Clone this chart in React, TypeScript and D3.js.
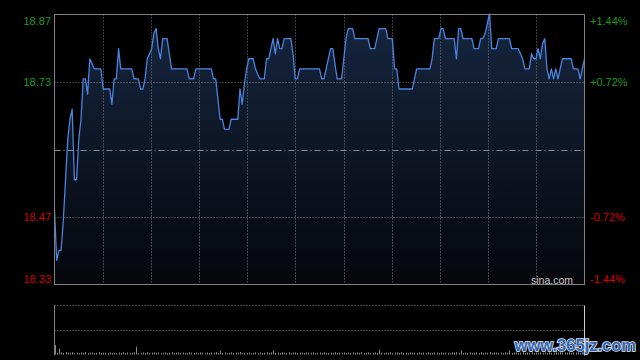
import React from "react";
import * as d3 from "d3";

const prevClose = 18.6;
const pctTicks = [1.44, 0.72, -0.72, -1.44];

const prices = [
  18.48, 18.38, 18.40, 18.40, 18.46, 18.54, 18.62, 18.66, 18.68, 18.54,
  18.54, 18.62, 18.66, 18.74, 18.74, 18.71, 18.78, 18.77, 18.76, 18.76,
  18.76, 18.76, 18.72, 18.72, 18.72, 18.72, 18.69, 18.74, 18.74, 18.80,
  18.76, 18.76, 18.76, 18.76, 18.76, 18.76, 18.74, 18.74, 18.74, 18.72,
  18.72, 18.74, 18.78, 18.79, 18.80, 18.83, 18.84, 18.80, 18.78, 18.82,
  18.82, 18.82, 18.79, 18.76, 18.76, 18.76, 18.76, 18.76, 18.76, 18.76,
  18.76, 18.74, 18.74, 18.74, 18.76, 18.76, 18.76, 18.76, 18.76, 18.76,
  18.76, 18.76, 18.74, 18.74, 18.70, 18.66, 18.66, 18.64, 18.64, 18.64,
  18.66, 18.66, 18.66, 18.66, 18.72, 18.69, 18.73, 18.76, 18.78, 18.78,
  18.78, 18.76, 18.75, 18.74, 18.74, 18.74, 18.78, 18.78, 18.80, 18.82,
  18.79, 18.82, 18.80, 18.80, 18.82, 18.82, 18.82, 18.82, 18.79, 18.74,
  18.74, 18.76, 18.76, 18.76, 18.76, 18.76, 18.76, 18.76, 18.76, 18.76,
  18.76, 18.74, 18.74, 18.76, 18.78, 18.80, 18.80, 18.77, 18.74, 18.74,
  18.74, 18.78, 18.82, 18.84, 18.84, 18.84, 18.82, 18.82, 18.82, 18.82,
  18.82, 18.82, 18.82, 18.80, 18.80, 18.80, 18.82, 18.84, 18.84, 18.84,
  18.84, 18.82, 18.82, 18.82, 18.76, 18.76, 18.72, 18.72, 18.72, 18.72,
  18.72, 18.72, 18.72, 18.74, 18.76, 18.76, 18.76, 18.76, 18.76, 18.76,
  18.76, 18.78, 18.82, 18.82, 18.82, 18.84, 18.84, 18.82, 18.82, 18.82,
  18.82, 18.82, 18.78, 18.84, 18.84, 18.82, 18.82, 18.82, 18.82, 18.82,
  18.80, 18.80, 18.80, 18.82, 18.82, 18.83, 18.85, 18.87, 18.80, 18.80,
  18.80, 18.82, 18.82, 18.82, 18.82, 18.82, 18.82, 18.80, 18.80, 18.80,
  18.80, 18.79, 18.78, 18.76, 18.76, 18.76, 18.79, 18.78, 18.78, 18.80,
  18.78, 18.81, 18.82, 18.76, 18.74, 18.76, 18.74, 18.76, 18.74, 18.76,
  18.78, 18.78, 18.78, 18.78, 18.78, 18.76, 18.76, 18.76, 18.74, 18.76, 18.78,
];

const volumes = [
  95, 18, 60, 22, 15, 25, 20, 18, 24, 16,
  20, 14, 22, 18, 26, 15, 19, 21, 13, 17,
  24, 16, 18, 20, 15, 22, 17, 19, 14, 21,
  18, 23, 15, 20, 16, 19, 22, 80, 14, 18,
  21, 16, 24, 15, 19, 22, 17, 20, 13, 18,
  22, 15, 19, 24, 16, 18, 21, 14, 20, 17,
  15, 23, 18, 16, 20, 14, 22, 19, 17, 21,
  16, 20, 18, 24, 15, 40, 17, 21, 14, 19,
  22, 16, 20, 18, 25, 15, 19, 17, 21, 14,
  18, 22, 16, 20, 15, 19, 23, 17, 21, 40,
  17, 20, 15, 22, 18, 16, 24, 14, 19, 21,
  16, 20, 18, 15, 22, 17, 19, 21, 14, 18,
  20, 16, 22, 18, 15, 19, 17, 23, 14, 20,
  18, 21, 16, 19, 15, 22, 17, 20, 18, 24,
  16, 19, 21, 15, 18, 22, 17, 50, 19, 16,
  20, 18, 23, 15, 19, 21, 16, 24, 17, 20,
  15, 22, 18, 19, 16, 21, 17, 20, 14, 23,
  18, 16, 21, 19, 15, 22, 17, 20, 18, 16,
  21, 19, 24, 17, 40, 15, 20, 18, 22, 16,
  19, 21, 15, 24, 17, 20, 18, 26, 16, 22,
  19, 17, 21, 15, 23, 18, 40, 16, 20, 22,
  17, 19, 24, 15, 21, 18, 22, 16, 20, 19,
  23, 17, 21, 16, 24, 18, 20, 22, 17, 25,
  19, 21, 18, 23, 16, 22, 20, 24, 18, 21, 30,
];

const W = 640;
const H = 360;
const L = 54.5;
const R = 584.5;
const T = 14.5;
const B = 284.5;
const VT = 305.5;
const VM = 330.5;
const VB = 354.5;

const FONT = "'Liberation Sans', Arial, Helvetica, sans-serif";

export default function App() {
  React.useEffect(() => {
    document.body.style.margin = "0";
    document.body.style.background = "#000";
  }, []);

  const maxPct = pctTicks[0];
  const yMax = prevClose * (1 + maxPct / 100);
  const yMin = prevClose * (1 - maxPct / 100);
  const x = d3.scaleLinear().domain([0, prices.length - 1]).range([L, R]);
  const y = d3.scaleLinear().domain([yMin, yMax]).range([B, T]);
  const yv = d3.scaleLinear().domain([0, 500]).range([VB, VT]);

  const line = d3
    .line<number>()
    .x((_, i) => x(i))
    .y((d) => y(d));
  const area = d3
    .area<number>()
    .x((_, i) => x(i))
    .y0(B)
    .y1((d) => y(d));

  const vGrid = d3.range(1, 11).map((k) => L + (k * (R - L)) / 11);
  const tickVals = pctTicks.map((p) => prevClose * (1 + p / 100));

  return (
    <svg
      width={W}
      height={H}
      style={{ position: "absolute", left: 0, top: 0, display: "block" }}
    >
      <defs>
        <linearGradient id="fillGrad" x1="0" y1="0" x2="0" y2="1">
          <stop offset="0%" stopColor="#162640" />
          <stop offset="100%" stopColor="#05070b" />
        </linearGradient>
        <clipPath id="plotClip">
          <rect x={L} y={T - 1} width={R - L} height={B - T + 1} />
        </clipPath>
      </defs>
      <rect x={0} y={0} width={W} height={H} fill="#000" />

      <g clipPath="url(#plotClip)">
        <path d={area(prices) || ""} fill="url(#fillGrad)" />
      </g>

      {vGrid.map((gx, i) => (
        <line
          key={"vg" + i}
          x1={Math.round(gx) + 0.5}
          x2={Math.round(gx) + 0.5}
          y1={T}
          y2={B}
          stroke="#7a7a7a"
          strokeWidth={1}
          strokeDasharray="1,2"
        />
      ))}
      {tickVals.slice(1, 3).map((v, i) => (
        <line
          key={"hg" + i}
          x1={L}
          x2={R}
          y1={Math.round(y(v)) + 0.5}
          y2={Math.round(y(v)) + 0.5}
          stroke="#7a7a7a"
          strokeWidth={1}
          strokeDasharray="1,2"
        />
      ))}
      <line
        x1={L}
        x2={R}
        y1={Math.round(y(prevClose)) + 0.5}
        y2={Math.round(y(prevClose)) + 0.5}
        stroke="#8a8a8a"
        strokeWidth={1}
        strokeDasharray="6,3,1,3"
      />

      <g clipPath="url(#plotClip)">
        <path
          d={line(prices) || ""}
          fill="none"
          stroke="#4a84e0"
          strokeWidth={1.3}
          strokeLinejoin="round"
        />
      </g>

      <rect
        x={L}
        y={T}
        width={R - L}
        height={B - T}
        fill="none"
        stroke="#808080"
        strokeWidth={1}
      />

      {tickVals.map((v, i) => {
        const up = pctTicks[i] > 0;
        let cy = y(v);
        if (i === 0) cy += 6;
        if (i === tickVals.length - 1) cy -= 6;
        const color = up ? "#1c9a1c" : "#d40000";
        const pctLabel = (pctTicks[i] > 0 ? "+" : "") + pctTicks[i].toFixed(2) + "%";
        return (
          <g key={"lab" + i} fontFamily={FONT} fontSize={11} fill={color}>
            <text x={51} y={cy} textAnchor="end" dominantBaseline="central">
              {v.toFixed(2)}
            </text>
            <text x={590} y={cy} textAnchor="start" dominantBaseline="central">
              {pctLabel}
            </text>
          </g>
        );
      })}

      <text
        x={573}
        y={279.5}
        textAnchor="end"
        dominantBaseline="central"
        fontFamily={FONT}
        fontSize={10.5}
        fill="#c8c8c8"
      >
        sina.com
      </text>

      {/* volume panel */}
      <line x1={L} x2={R} y1={VT} y2={VT} stroke="#8a8a8a" strokeDasharray="1,2" />
      <line x1={L} x2={R} y1={VM} y2={VM} stroke="#8a8a8a" strokeDasharray="1,2" />
      <line x1={L} x2={L} y1={VT} y2={VB + 1} stroke="#808080" />
      <line x1={R} x2={R} y1={VT} y2={VB + 1} stroke="#d0d0d0" />
      {volumes.map((v, i) => (
        <line
          key={"v" + i}
          x1={Math.round(x(i)) + 0.5}
          x2={Math.round(x(i)) + 0.5}
          y1={VB}
          y2={Math.min(yv(v), VB - 1)}
          stroke="#8c8c8c"
          strokeWidth={1}
        />
      ))}

      <text
        x={636}
        y={351}
        textAnchor="end"
        fontFamily={FONT}
        fontSize={16.5}
        fontWeight="bold"
        fill="#3564b0"
        stroke="#dfe8f5"
        strokeWidth={1.6}
        paintOrder="stroke"
      >
        www.365jz.com
      </text>
    </svg>
  );
}
